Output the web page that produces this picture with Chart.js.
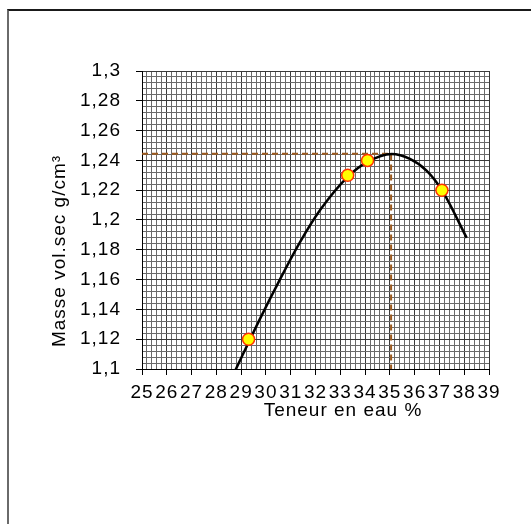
<!DOCTYPE html>
<html>
<head>
<meta charset="utf-8">
<script src="https://cdn.jsdelivr.net/npm/chart.js@4"></script>
<style>
  html, body { margin: 0; padding: 0; background: #fff; overflow: hidden; }
  #wrap { position: relative; width: 531px; height: 524px; }
  #frame { position: absolute; left: 7px; top: 9px; width: 600px; height: 600px;
           border-top: 2px solid #1a1a1a; border-left: 2px solid #6a6a6a; }
  canvas { position: absolute; left: 0; top: 0; }
</style>
</head>
<body>
<div id="wrap">
  <div id="frame"></div>
  <canvas id="chart" width="531" height="524"></canvas>
</div>
<script>
// measured samples
const moisture = [29.3, 33.3, 34.1, 37.1];
const density = [1.12, 1.23, 1.24, 1.22];

// fitted curve
const curveX = [28.72, 29.72, 30.5, 31.37, 32.2, 33.3, 34.1, 35.07, 35.81, 36.49, 37.1, 38.1];
const curveY = [1.0975, 1.1323, 1.158, 1.185, 1.207, 1.229, 1.239, 1.2443, 1.241, 1.233, 1.22, 1.188];

// optimum read on the curve
const optimumX = 35.05;
const optimumY = 1.2445;

const xMin = 25, xMax = 39, xStep = 0.2;
const yMin = 1.1, yMax = 1.3, yStep = 0.004;

const xTitle = "Teneur en eau %";
const yTitle = "Masse vol.sec g/cm³";

const font = "'Liberation Sans', Arial, sans-serif";
const fontSize = 19;
const spacing = "1px";

function isMajorX(v) { return Math.abs(v - Math.round(v)) < 1e-6; }
function isMajorY(v) { return Math.abs(v * 50 - Math.round(v * 50)) < 1e-6; }

// the Excel text is drawn a bit wider than plain Arial
const textSpacing = {
  id: "textSpacing",
  beforeDraw(chart) { chart.ctx.letterSpacing = spacing; }
};

const axisTitles = {
  id: "axisTitles",
  afterDraw(chart) {
    const ctx = chart.ctx;
    const area = chart.chartArea;
    ctx.save();
    ctx.letterSpacing = spacing;
    ctx.fillStyle = "#000";
    ctx.font = fontSize + "px " + font;
    ctx.textAlign = "center";
    ctx.textBaseline = "middle";
    ctx.fillText(xTitle, area.left + 201, area.bottom + 42);
    ctx.translate(60, area.top + 180);
    ctx.rotate(-Math.PI / 2);
    ctx.fillText(yTitle, 0, 0);
    ctx.restore();
  }
};

const ctx = document.getElementById("chart").getContext("2d");
new Chart(ctx, {
  type: "scatter",
  data: {
    datasets: [
      {
        label: "points",
        data: moisture.map((x, i) => ({ x: x, y: density[i] })),
        pointRadius: 6,
        pointBorderWidth: 1.5,
        pointBackgroundColor: "#ffff00",
        pointBorderColor: "#ff3300",
        showLine: false
      },
      {
        label: "curve",
        data: curveX.map((x, i) => ({ x: x, y: curveY[i] })),
        showLine: true,
        borderColor: "#000",
        borderWidth: 2.5,
        pointRadius: 0,
        cubicInterpolationMode: "monotone"
      },
      {
        label: "optimum",
        data: [
          { x: xMin, y: optimumY },
          { x: optimumX, y: optimumY },
          { x: optimumX, y: yMin }
        ],
        showLine: true,
        borderColor: "#9c5a1e",
        borderWidth: 2,
        borderDash: [6, 4],
        pointRadius: 0,
        tension: 0
      }
    ]
  },
  options: {
    responsive: false,
    animation: false,
    layout: { padding: { left: 20, top: 71, right: 42, bottom: 0 } },
    plugins: {
      legend: { display: false },
      tooltip: { enabled: false }
    },
    scales: {
      x: {
        type: "linear",
        min: xMin,
        max: xMax,
        afterFit: (scale) => { scale.height = 155; },
        ticks: {
          stepSize: xStep,
          maxTicksLimit: 1000,
          autoSkip: false,
          maxRotation: 0,
          minRotation: 0,
          padding: 6,
          color: "#000",
          font: { family: font, size: fontSize },
          callback: (v) => (isMajorX(v) ? String(Math.round(v)) : "")
        },
        grid: {
          color: (c) => (c.tick && isMajorX(c.tick.value) ? "#3a3a3a" : "#6a6a6a"),
          tickColor: (c) => (c.tick && isMajorX(c.tick.value) ? "#000" : "rgba(0,0,0,0)"),
          tickLength: 6,
          lineWidth: 1
        },
        border: { color: "#000", width: 1 }
      },
      y: {
        type: "linear",
        min: yMin,
        max: yMax,
        afterFit: (scale) => { scale.width = 122; },
        ticks: {
          stepSize: yStep,
          maxTicksLimit: 1000,
          autoSkip: false,
          padding: 15,
          color: "#000",
          font: { family: font, size: fontSize },
          callback: (v) => (isMajorY(v) ? String(Number(v.toFixed(2))).replace(".", ",") : "")
        },
        grid: {
          color: (c) => (c.tick && isMajorY(c.tick.value) ? "#3a3a3a" : "#6a6a6a"),
          tickColor: (c) => (c.tick && isMajorY(c.tick.value) ? "#000" : "rgba(0,0,0,0)"),
          tickLength: 6,
          lineWidth: 1
        },
        border: { color: "#000", width: 1 }
      }
    }
  },
  plugins: [textSpacing, axisTitles]
});
</script>
</body>
</html>
